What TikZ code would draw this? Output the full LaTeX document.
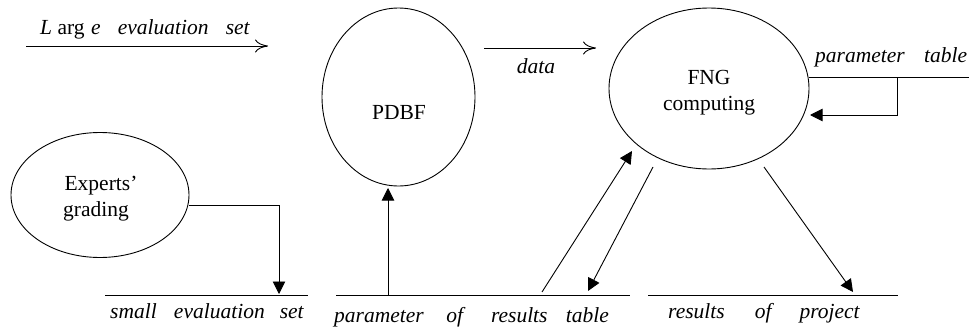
\documentclass[tikz,border=0pt]{standalone}
\usepackage{fontspec}
\setmainfont{Liberation Serif}
\usetikzlibrary{arrows.meta}
\tikzset{
  x=1pt,y=-1pt,
  lbl/.style={inner sep=0pt,anchor=base,font=\fontsize{21.5}{26}\selectfont},
  ital/.style={lbl,font=\fontsize{21.5}{26}\selectfont\itshape},
  bubble/.style={line width=0.9pt},
  conn/.style={line width=0.9pt},
  solidarrow/.style={conn,-{Triangle[length=12.5pt,width=12.5pt]}},
  openarrow/.style={conn,-{To[length=13pt,width=13pt,line width=0.9pt]}},
  rulebar/.style={line width=1pt}
}
\begin{document}
\begin{tikzpicture}
\useasboundingbox (0,0) rectangle (969,332);
% bubbles
\draw[bubble] (398.5,97) ellipse [x radius=76.5,y radius=89];
\draw[bubble] (709,88.5) ellipse [x radius=100,y radius=80.5];
\draw[bubble] (100,195) ellipse [x radius=89,y radius=62.5];
\node[lbl] (pdbf) at (399,119) {PDBF};
\node[lbl] (fng) at (709,84) {FNG};
\node[lbl] (comp) at (709,110) {computing};
\node[lbl] (exp) at (101,190) {Experts’};
\node[lbl] (grad) at (96,216) {grading};
% named points
\coordinate (la) at (26,46); \coordinate (lb) at (268,46);
\coordinate (da) at (484,48); \coordinate (db) at (596,48);
\coordinate (pa) at (809,77); \coordinate (pb) at (969,77);
\coordinate (pc) at (897,77); \coordinate (pd) at (810,115);
\coordinate (ea) at (189,205); \coordinate (eb) at (279,294);
\coordinate (sa) at (105,295); \coordinate (sb) at (308,295);
\coordinate (ta) at (336,295); \coordinate (tb) at (630,295);
\coordinate (ra) at (648,295); \coordinate (rb) at (898,295);
\coordinate (up1) at (388,295); \coordinate (up2) at (388,188);
\coordinate (f1) at (542,292); \coordinate (f2) at (632,151);
\coordinate (g1) at (653,167); \coordinate (g2) at (588,291);
\coordinate (h1) at (764,167); \coordinate (h2) at (853,292);
% rules
\draw[rulebar] (sa) -- (sb);
\draw[rulebar] (ta) -- (tb);
\draw[rulebar] (ra) -- (rb);
\draw[rulebar] (pa) -- (pb);
% arrows
\draw[openarrow] (la) -- (lb);
\draw[openarrow] (da) -- (db);
\draw[solidarrow] (pc) |- (pd);
\draw[solidarrow] (ea) -| (eb);
\draw[solidarrow] (up1) -- (up2);
\draw[solidarrow] (f1) -- (f2);
\draw[solidarrow] (g1) -- (g2);
\draw[solidarrow] (h1) -- (h2);
% labels
\node[lbl,anchor=base west] (t1) at (40,34) {\textit{L}\hspace{0.25em}arg\hspace{0.3em}\textit{e}\hspace{0.8em}\textit{evaluation}\hspace{0.8em}\textit{set}};
\node[ital] (t2) at (536,73) {data};
\node[ital,anchor=base west] (t3) at (815,62) {parameter\hspace{0.9em}table};
\node[ital,anchor=base west] (t4) at (110,318) {small\hspace{0.8em}evaluation\hspace{0.7em}set};
\node[ital,anchor=base west] (t5) at (334,322) {parameter\hspace{1.05em}of\hspace{1.3em}results\hspace{0.85em}table};
\node[ital,anchor=base west] (t6) at (668,318) {results\hspace{1.4em}of\hspace{1.3em}project};
\end{tikzpicture}
\end{document}
